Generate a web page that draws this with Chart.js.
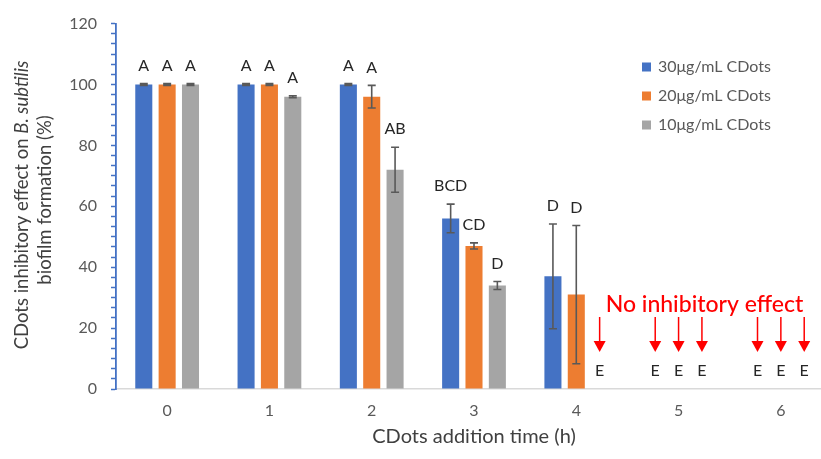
<!DOCTYPE html>
<html lang="en">
<head>
<meta charset="utf-8">
<script src="https://cdn.jsdelivr.net/npm/chart.js@4.4.1/dist/chart.umd.min.js"></script>
<style>
  body { margin: 0; overflow: hidden; background: #fff; }
</style>
</head>
<body>
<canvas id="myplot" width="832" height="459"></canvas>
<script>
// data
const hours = ['0', '1', '2', '3', '4', '5', '6'];
const seriesNames = ['30\u03bcg/mL CDots', '20\u03bcg/mL CDots', '10\u03bcg/mL CDots'];
const colours = ['#4472C4', '#ED7D31', '#A5A5A5'];

const conc30 = [100, 100, 100, 56, 37, 0, 0];
const conc20 = [100, 100, 96, 47, 31, 0, 0];
const conc10 = [100, 96, 72, 34, 0, 0, 0];

const err30 = [0.3, 0.3, 0.3, 4.7, 17.2, 0, 0];
const err20 = [0.3, 0.3, 3.7, 1, 22.7, 0, 0];
const err10 = [0.3, 0.3, 7.4, 1.3, 0, 0, 0];

const letters30 = ['A', 'A', 'A', 'BCD', 'D', 'E', 'E'];
const letters20 = ['A', 'A', 'A', 'CD', 'D', 'E', 'E'];
const letters10 = ['A', 'A', 'AB', 'D', 'E', 'E', 'E'];

const yLabelStep = 20;
const yMinorStep = 20 / 6;
const noteText = 'No inhibitory effect';

const errors = [err30, err20, err10];
const letters = [letters30, letters20, letters10];
const FONT = 'Lato, "Open Sans", sans-serif';

const extras = {
    id: 'extras',
    afterDatasetsDraw(chart) {
        const ctx = chart.ctx;
        const ys = chart.scales.y;
        const y0 = ys.getPixelForValue(0);
        ctx.save();
        chart.data.datasets.forEach((ds, i) => {
            const meta = chart.getDatasetMeta(i);
            meta.data.forEach((bar, j) => {
                const v = ds.data[j];
                const e = errors[i][j];
                const x = bar.x;
                if (e > 0) {
                    const top = ys.getPixelForValue(v + e);
                    const bot = ys.getPixelForValue(v - e);
                    ctx.strokeStyle = '#595959';
                    ctx.lineWidth = 1.6;
                    ctx.beginPath();
                    ctx.moveTo(x, top); ctx.lineTo(x, bot);
                    ctx.moveTo(x - 4, top); ctx.lineTo(x + 4, top);
                    ctx.moveTo(x - 4, bot); ctx.lineTo(x + 4, bot);
                    ctx.stroke();
                }
                // letter
                ctx.fillStyle = '#262626';
                ctx.font = '16px ' + FONT;
                ctx.textAlign = 'center';
                ctx.textBaseline = 'middle';
                ctx.fillText(letters[i][j], x, ys.getPixelForValue(v + e) - 18);
                // red arrow over zero bars
                if (v === 0) {
                    ctx.strokeStyle = '#FF0000';
                    ctx.fillStyle = '#FF0000';
                    ctx.lineWidth = 1.5;
                    ctx.beginPath();
                    ctx.moveTo(x, y0 - 72);
                    ctx.lineTo(x, y0 - 46);
                    ctx.stroke();
                    ctx.beginPath();
                    ctx.moveTo(x - 6, y0 - 48);
                    ctx.lineTo(x + 6, y0 - 48);
                    ctx.lineTo(x, y0 - 37);
                    ctx.closePath();
                    ctx.fill();
                }
            });
        });
        // note text, starts just right of the first zero bar
        const first = chart.getDatasetMeta(2).data[4];
        ctx.fillStyle = '#FF0000';
        ctx.font = '500 23px ' + FONT;
        ctx.textAlign = 'left';
        ctx.textBaseline = 'middle';
        ctx.fillText(noteText, first.x + 6, y0 - 84);

        // legend
        ctx.font = '16px ' + FONT;
        seriesNames.forEach((name, i) => {
            const ly = 67 + i * 29;
            ctx.fillStyle = colours[i];
            ctx.fillRect(642, ly - 4.5, 9, 9);
            ctx.fillStyle = '#595959';
            ctx.textAlign = 'left';
            ctx.fillText(name, 658, ly);
        });

        // y title with italic species name
        ctx.translate(22, 205);
        ctx.rotate(-Math.PI / 2);
        const part1 = 'CDots inhibitory effect on ';
        const part2 = 'B. subtilis';
        const fs = '18.5px ';
        ctx.font = fs + FONT;
        const w1 = ctx.measureText(part1).width;
        ctx.font = 'italic ' + fs + FONT;
        const w2 = ctx.measureText(part2).width;
        const startX = -(w1 + w2) / 2;
        ctx.fillStyle = '#404040';
        ctx.textAlign = 'left';
        ctx.font = fs + FONT;
        ctx.fillText(part1, startX, 0);
        ctx.font = 'italic ' + fs + FONT;
        ctx.fillText(part2, startX + w1, 0);
        ctx.font = fs + FONT;
        ctx.textAlign = 'center';
        ctx.fillText('biofilm formation (%)', 5, 23);
        ctx.restore();
    }
};

const ctx = document.getElementById('myplot').getContext('2d');
const chart = new Chart(ctx, {
    type: 'bar',
    data: {
        labels: hours,
        datasets: [
            { label: seriesNames[0], data: conc30, backgroundColor: colours[0] },
            { label: seriesNames[1], data: conc20, backgroundColor: colours[1] },
            { label: seriesNames[2], data: conc10, backgroundColor: colours[2] },
        ]
    },
    options: {
        responsive: false,
        animation: false,
        categoryPercentage: 0.685,
        barPercentage: 0.73,
        layout: { padding: { top: 19, right: 0, left: 0, bottom: 0 } },
        plugins: { legend: { display: false }, tooltip: { enabled: false } },
        scales: {
            x: {
                grid: { display: false, drawTicks: false },
                border: { display: true, color: '#D9D9D9', width: 1.5 },
                ticks: { color: '#595959', font: { family: FONT, size: 16 }, padding: 12 },
                title: {
                    display: true, text: 'CDots addition time (h)', color: '#404040',
                    font: { family: FONT, size: 20 }, padding: { top: 0, bottom: 10 }
                },
                afterFit: (s) => { s.height = 70; }
            },
            y: {
                min: 0, max: 120,
                grid: { drawOnChartArea: false, drawTicks: true, tickLength: 5, tickColor: '#4472C4', tickWidth: 1.5 },
                border: { display: true, color: '#4472C4', width: 1.8 },
                afterBuildTicks: (s) => {
                    const t = [];
                    for (let k = 0; k <= 36; k++) t.push({ value: k * yMinorStep });
                    s.ticks = t;
                },
                ticks: {
                    autoSkip: false,
                    color: '#595959',
                    font: { family: FONT, size: 16 },
                    padding: 14,
                    callback: (v) => {
                        const r = Math.round(v / yLabelStep);
                        return Math.abs(v / yLabelStep - r) < 1e-6 ? String(r * yLabelStep) : '';
                    }
                },
                afterFit: (s) => { s.width = 116; }
            }
        }
    },
    plugins: [extras]
});
</script>
</body>
</html>
